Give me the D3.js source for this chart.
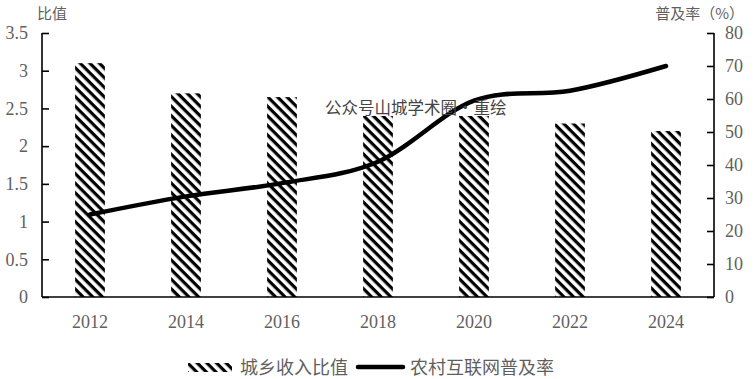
<!DOCTYPE html>
<html><head><meta charset="utf-8">
<script src="https://cdn.jsdelivr.net/npm/d3@7"></script>
<style>html,body{margin:0;padding:0;background:#fff;}svg{display:block;}</style>
</head><body><svg id="c" width="756" height="379"></svg>
<script>
const years = ["2012","2014","2016","2018","2020","2022","2024"];
const ratioValues = [3.1, 2.7, 2.65, 2.4, 2.4, 2.3, 2.2];
const internetValues = [25, 30.5, 34.5, 41, 59.5, 62.5, 70];
const leftTicks = [0, 0.5, 1, 1.5, 2, 2.5, 3, 3.5];
const rightTicks = [0, 10, 20, 30, 40, 50, 60, 70, 80];
const leftTitle = "比值";
const rightTitle = "普及率（%）";
const seriesNames = ["城乡收入比值", "农村互联网普及率"];
const watermark = "公众号山城学术圈・重绘";

const svg = d3.select("#c");
const textColor = "#5f5f5f";
const serif = "'Liberation Serif','DejaVu Serif',serif";
const cjk = "'Noto Sans CJK SC','Noto Sans',sans-serif";
const L = 42, R = 714, T = 33, B = 297;

const defs = svg.append("defs");
const pat = defs.append("pattern").attr("id","hatch").attr("patternUnits","userSpaceOnUse")
  .attr("width",6.8).attr("height",6.8).attr("patternTransform","rotate(45)");
pat.append("rect").attr("x",0).attr("y",0).attr("width",6.8).attr("height",3.2).attr("fill","#000");

const x = d3.scaleBand().domain(years).range([L, R]).paddingInner(0.69).paddingOuter(0.345);
const yL = d3.scaleLinear().domain([0, 3.5]).range([B, T]);
const yR = d3.scaleLinear().domain([0, 80]).range([B, T]);

// bars
svg.append("g").selectAll("rect").data(years).join("rect")
  .attr("x", d => x(d)).attr("width", x.bandwidth())
  .attr("y", (d,i) => yL(ratioValues[i])).attr("height", (d,i) => B - yL(ratioValues[i]))
  .attr("fill","url(#hatch)");

// line
const line = d3.line().x((d,i) => x(years[i]) + x.bandwidth()/2).y(d => yR(d)).curve(d3.curveCardinal.tension(0));
svg.append("path").datum(internetValues).attr("d", line).attr("fill","none")
  .attr("stroke","#000").attr("stroke-width",4.5).attr("stroke-linecap","round");

// axes
const gl = svg.append("g").attr("transform",`translate(${L},0)`)
  .call(d3.axisRight(yL).tickValues(leftTicks).tickSize(7).tickFormat(d3.format("")));
gl.selectAll("text").attr("x",-14).attr("text-anchor","end");
const gr = svg.append("g").attr("transform",`translate(${R},0)`)
  .call(d3.axisLeft(yR).tickValues(rightTicks).tickSize(7).tickFormat(d3.format("")));
gr.selectAll("text").attr("x",11).attr("text-anchor","start");
const gx = svg.append("g").attr("transform",`translate(0,${B})`)
  .call(d3.axisBottom(x).tickSize(0).tickPadding(0));
gx.selectAll("text").attr("dy",null).attr("y",31);
[gl,gr,gx].forEach(g => {
  g.select(".domain").attr("stroke","#000").attr("stroke-width",1.6);
  g.selectAll(".tick line").attr("stroke","#000").attr("stroke-width",1.6);
  g.selectAll("text").attr("fill",textColor).style("font-family",serif).style("font-size","18px");
});
gl.select(".domain").attr("d",`M0,${T}V${B}`);
gr.select(".domain").attr("d",`M0,${T}V${B}`);
gx.select(".domain").attr("d",`M${L},0H${R}`);

// titles
svg.append("text").attr("x",37).attr("y",19).text(leftTitle)
  .attr("fill",textColor).style("font-family",cjk).style("font-size","15px");
svg.append("text").attr("x",744).attr("y",19).attr("text-anchor","end").text(rightTitle)
  .attr("fill",textColor).style("font-family",cjk).style("font-size","15px");

// watermark
svg.append("text").attr("x",325).attr("y",114).text(watermark)
  .attr("fill","#444").style("font-family",cjk).style("font-size","16.5px");

// legend
const ly = 368;
svg.append("rect").attr("x",188).attr("y",ly-5).attr("width",44).attr("height",9).attr("fill","url(#hatch)");
svg.append("text").attr("x",240).attr("y",ly+6).text(seriesNames[0])
  .attr("fill",textColor).style("font-family",cjk).style("font-size","18px");
svg.append("line").attr("x1",358).attr("x2",403).attr("y1",ly-1).attr("y2",ly-1)
  .attr("stroke","#000").attr("stroke-width",4.5).attr("stroke-linecap","round");
svg.append("text").attr("x",410).attr("y",ly+6).text(seriesNames[1])
  .attr("fill",textColor).style("font-family",cjk).style("font-size","18px");
</script></body></html>
